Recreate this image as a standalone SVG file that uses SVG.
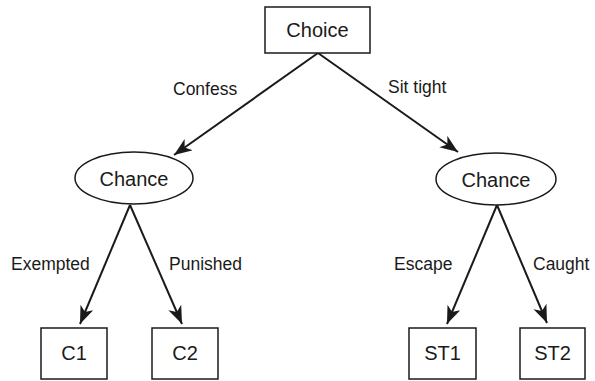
<svg xmlns="http://www.w3.org/2000/svg" width="595" height="381" viewBox="0 0 595 381">
<style>
.box{fill:#fff;stroke:#1a1a1a;stroke-width:1.5}
.node{font-family:"Liberation Sans",Arial,sans-serif;font-size:20px;fill:#1a1a1a;text-anchor:middle}
.lbl{font-family:"Liberation Sans",Arial,sans-serif;font-size:17.5px;fill:#1a1a1a}
.edge{stroke:#1a1a1a;stroke-width:2;fill:none}
</style>
<defs>
<marker id="arr" markerUnits="userSpaceOnUse" markerWidth="20" markerHeight="16" refX="18" refY="7" orient="auto">
<path d="M0,0 L18,7 L0,14 L5,7 z" fill="#1a1a1a"/>
</marker>
</defs>
<rect width="595" height="381" fill="#fff"/>
<g id="connectors">
<line class="edge" x1="318" y1="53" x2="174" y2="155" marker-end="url(#arr)"/>
<line class="edge" x1="318" y1="53" x2="458" y2="152" marker-end="url(#arr)"/>
<line class="edge" x1="130" y1="205" x2="80" y2="324" marker-end="url(#arr)"/>
<line class="edge" x1="130" y1="205" x2="182" y2="324" marker-end="url(#arr)"/>
<line class="edge" x1="497" y1="205" x2="447" y2="324" marker-end="url(#arr)"/>
<line class="edge" x1="497" y1="205" x2="547" y2="323" marker-end="url(#arr)"/>
<text class="lbl" x="173" y="95">Confess</text>
<text class="lbl" x="388" y="93">Sit tight</text>
<text class="lbl" x="11" y="270">Exempted</text>
<text class="lbl" x="169" y="270">Punished</text>
<text class="lbl" x="394" y="270">Escape</text>
<text class="lbl" x="533" y="270">Caught</text>
</g>
<g id="choice">
<rect class="box" x="265" y="7" width="105" height="46"/>
<text class="node" x="317.5" y="37">Choice</text>
</g>
<g id="chance1">
<ellipse class="box" cx="134" cy="178" rx="59" ry="26"/>
<text class="node" x="134" y="186">Chance</text>
</g>
<g id="chance2">
<ellipse class="box" cx="496" cy="179" rx="60" ry="26"/>
<text class="node" x="496" y="187">Chance</text>
</g>
<g id="c1">
<rect class="box" x="41" y="328" width="66" height="51"/>
<text class="node" x="74" y="360">C1</text>
</g>
<g id="c2">
<rect class="box" x="152" y="328" width="66" height="51"/>
<text class="node" x="185" y="360">C2</text>
</g>
<g id="st1">
<rect class="box" x="409" y="328" width="67" height="51"/>
<text class="node" x="442.5" y="360">ST1</text>
</g>
<g id="st2">
<rect class="box" x="520" y="328" width="65" height="51"/>
<text class="node" x="552.5" y="360">ST2</text>
</g>
</svg>
